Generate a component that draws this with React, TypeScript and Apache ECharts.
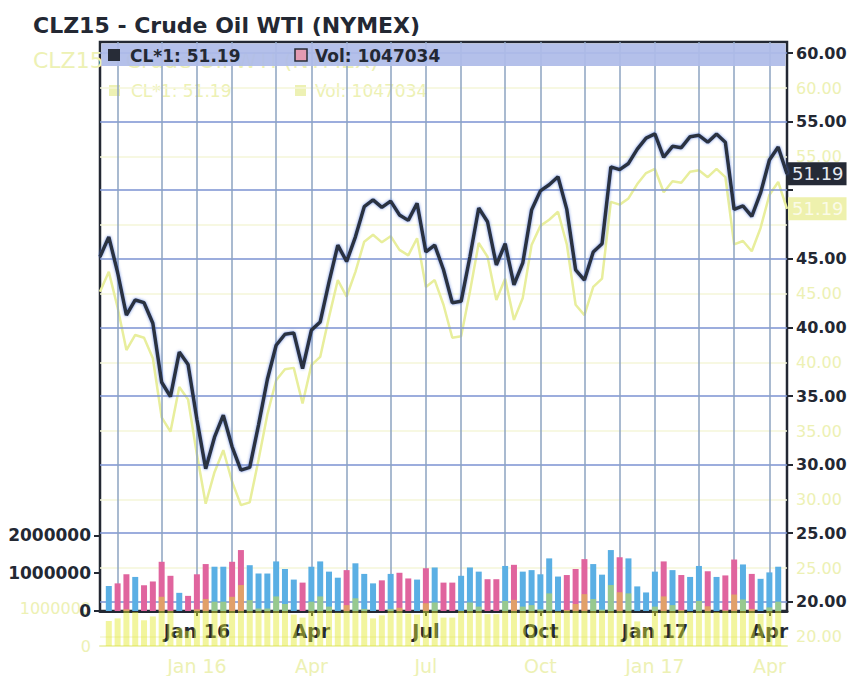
import React, { useEffect, useRef } from "react";
import * as echarts from "echarts";

const TITLE = "CLZ15 - Crude Oil WTI (NYMEX)";
const SYMBOL_LABEL = "CL*1";
const LAST_CLOSE = 51.19;
const LAST_VOLUME = 1047034;

const WEEKS = [
  "2015-10-19", "2015-10-26", "2015-11-02", "2015-11-09", "2015-11-16", "2015-11-23", "2015-11-30",
  "2015-12-07", "2015-12-14", "2015-12-21", "2015-12-28",
  "2016-01-04", "2016-01-11", "2016-01-18", "2016-01-25", "2016-02-01", "2016-02-08", "2016-02-15",
  "2016-02-22", "2016-02-29", "2016-03-07", "2016-03-14", "2016-03-21", "2016-03-28", "2016-04-04",
  "2016-04-11", "2016-04-18", "2016-04-25", "2016-05-02", "2016-05-09", "2016-05-16", "2016-05-23",
  "2016-05-30", "2016-06-06", "2016-06-13", "2016-06-20", "2016-06-27", "2016-07-04", "2016-07-11",
  "2016-07-18", "2016-07-25", "2016-08-01", "2016-08-08", "2016-08-15", "2016-08-22", "2016-08-29",
  "2016-09-05", "2016-09-12", "2016-09-19", "2016-09-26", "2016-10-03", "2016-10-10", "2016-10-17",
  "2016-10-24", "2016-10-31", "2016-11-07", "2016-11-14", "2016-11-21", "2016-11-28", "2016-12-05",
  "2016-12-12", "2016-12-19", "2016-12-26",
  "2017-01-02", "2017-01-09", "2017-01-16", "2017-01-23", "2017-01-30", "2017-02-06", "2017-02-13",
  "2017-02-20", "2017-02-27", "2017-03-06", "2017-03-13", "2017-03-20", "2017-03-27", "2017-04-03",
  "2017-04-10", "2017-04-17",
];

const CLOSE = [
  45.15, 46.6, 44.0, 40.9, 42.0, 41.8, 40.3, 36.0, 34.95, 38.2,
  37.3, 33.3, 29.7, 32.0, 33.6, 31.3, 29.6, 29.8, 32.9, 36.2,
  38.7, 39.5, 39.6, 37.0, 39.8, 40.4, 43.3, 46.0, 44.8, 46.6,
  48.8, 49.3, 48.75, 49.2, 48.2, 47.8, 49.05, 45.5, 46.0, 44.2,
  41.8, 41.9, 45.15, 48.7, 47.7, 44.55, 46.1, 43.1, 44.7, 48.55,
  49.95, 50.4, 50.98, 48.6, 44.2, 43.45, 45.5, 46.1, 51.7, 51.5,
  51.95, 53.0, 53.8, 54.1, 52.4, 53.2, 53.1, 53.9, 54.0, 53.5,
  54.1, 53.5, 48.6, 48.85, 48.1, 49.8, 52.2, 53.15, 51.19,
];

const VOLUME = [
  null, 660000, 730000, 970000, 900000, 680000, 780000, 1300000, 930000, 480000,
  400000, 970000, 1240000, 1170000, 1170000, 1300000, 1610000, 1210000, 990000, 990000,
  1310000, 1110000, 830000, 750000, 1170000, 1310000, 1040000, 880000, 1080000, 1260000,
  980000, 730000, 810000, 980000, 1010000, 860000, 830000, 1130000, 1150000, 750000,
  750000, 930000, 1150000, 1040000, 840000, 840000, 1190000, 1220000, 1040000, 1080000,
  970000, 1390000, 910000, 950000, 1110000, 1370000, 1240000, 960000, 1610000, 1420000,
  1390000, 650000, 490000, 1040000, 1310000, 1080000, 950000, 900000, 1190000, 1050000,
  900000, 940000, 1360000, 1230000, 980000, 850000, 1020000, 1170000, null,
];

const PRICE_MIN = 20;
const PRICE_MAX = 60;
const PRICE_STEP = 5;
const VOL_MAX = 2000000;
const VOL_STEP = 1000000;
const MONTH_NAMES = ["Jan", "Feb", "Mar", "Apr", "May", "Jun", "Jul", "Aug", "Sep", "Oct", "Nov", "Dec"];
const QUARTER_MONTHS = [1, 4, 7, 10];

const FONT = "DejaVu Sans";
const DARK = "#232833";
const GHOST = "#edf1b4";
const GHOST_LINE = "#e8ee9c";
const UP_COLOR = "#5aafe4";
const DOWN_COLOR = "#e0649e";

const isMonthStart = (idx: number, v: string) => Number(v.slice(8, 10)) <= 7;
const isQuarterStart = (idx: number, v: string) =>
  isMonthStart(idx, v) && QUARTER_MONTHS.includes(Number(v.slice(5, 7)));
const quarterLabel = (v: string) => {
  const m = Number(v.slice(5, 7));
  const name = MONTH_NAMES[m - 1];
  return m === 1 ? `${name} ${v.slice(2, 4)}` : name;
};
const priceLabel = (v: number) => (Math.abs(v - LAST_CLOSE) < PRICE_STEP / 2 ? "" : v.toFixed(2));
const volLabel = (v: number) => String(Math.round(v));
const ghostVolLabel = (v: number) => (v >= VOL_MAX ? "" : String(Math.round(v)));

const L = 100;
const R = 65;

export default function App() {
  const ref = useRef<HTMLDivElement>(null);
  useEffect(() => {
    if (!ref.current) return;
    const chart = echarts.init(ref.current, null, { renderer: "svg" });

    const barData = VOLUME.map((v, i) => ({
      value: v,
      itemStyle: { color: i > 0 && CLOSE[i] < CLOSE[i - 1] ? DOWN_COLOR : UP_COLOR },
    }));

    const hiddenX = (gridIndex: number) => ({
      type: "category",
      gridIndex,
      data: WEEKS,
      boundaryGap: false,
      show: false,
    });

    const option: any = {
      animation: false,
      backgroundColor: "#ffffff",
      grid: [
        { left: L, right: R, top: 42, height: 569, show: true, borderColor: DARK, borderWidth: 2.5, backgroundColor: "transparent" },
        { left: L, right: R, top: 53, height: 548.8 },
        { left: L, right: R, top: 535.3, height: 75.7 },
        { left: L, right: R, top: 88, height: 548.8 },
        { left: L, right: R, top: 570.3, height: 75.7 },
      ],
      xAxis: [
        {
          type: "category",
          gridIndex: 0,
          data: WEEKS,
          boundaryGap: false,
          z: 3,
          axisLine: { show: true, lineStyle: { color: DARK, width: 3 } },
          axisTick: { show: true, interval: isQuarterStart, length: 5, lineStyle: { color: DARK, width: 2 } },
          axisLabel: {
            interval: isQuarterStart,
            formatter: quarterLabel,
            color: DARK,
            fontFamily: FONT,
            fontWeight: "bold",
            fontSize: 19,
            margin: 10,
          },
          splitLine: { show: true, interval: isMonthStart, lineStyle: { color: "#8ca3c0", width: 1.5 } },
        },
        hiddenX(1),
        hiddenX(2),
        hiddenX(3),
        {
          type: "category",
          gridIndex: 4,
          data: WEEKS,
          boundaryGap: false,
          z: 0,
          axisLine: { show: true, lineStyle: { color: GHOST, width: 2 } },
          axisTick: { show: false },
          axisLabel: {
            interval: isQuarterStart,
            formatter: quarterLabel,
            color: GHOST,
            fontFamily: FONT,
            fontSize: 19,
            margin: 10,
          },
          splitLine: { show: false },
        },
      ],
      yAxis: [
        { type: "value", gridIndex: 0, min: 0, max: 1, show: false },
        {
          type: "value",
          gridIndex: 1,
          position: "right",
          min: PRICE_MIN,
          max: PRICE_MAX,
          interval: PRICE_STEP,
          z: 2,
          axisLine: { show: false },
          axisTick: { show: true, length: 6, lineStyle: { color: DARK, width: 2 } },
          axisLabel: { formatter: priceLabel, color: DARK, fontFamily: FONT, fontWeight: "bold", fontSize: 16, margin: 9 },
          splitLine: { show: true, lineStyle: { color: "#7b92d2", width: 1.5 } },
        },
        {
          type: "value",
          gridIndex: 2,
          position: "left",
          min: 0,
          max: VOL_MAX,
          interval: VOL_STEP,
          z: 3,
          axisLine: { show: false },
          axisTick: { show: true, length: 6, lineStyle: { color: DARK, width: 2 } },
          axisLabel: { formatter: volLabel, color: DARK, fontFamily: FONT, fontWeight: "bold", fontSize: 17, margin: 9 },
          splitLine: { show: false },
        },
        {
          type: "value",
          gridIndex: 3,
          position: "right",
          min: PRICE_MIN,
          max: PRICE_MAX,
          interval: PRICE_STEP,
          z: 0,
          axisLine: { show: false },
          axisTick: { show: false },
          axisLabel: { formatter: priceLabel, color: GHOST, fontFamily: FONT, fontSize: 16, margin: 9 },
          splitLine: { show: true, lineStyle: { color: "#f4f6d8", width: 1.5 } },
        },
        {
          type: "value",
          gridIndex: 4,
          position: "left",
          min: 0,
          max: VOL_MAX,
          interval: VOL_STEP,
          z: 0,
          axisLine: { show: false },
          axisTick: { show: false },
          axisLabel: { formatter: ghostVolLabel, color: GHOST, fontFamily: FONT, fontSize: 16, margin: 9 },
          splitLine: { show: false },
        },
      ],
      series: [
        {
          type: "line",
          xAxisIndex: 3,
          yAxisIndex: 3,
          data: CLOSE,
          symbol: "none",
          z: 1,
          lineStyle: { color: GHOST_LINE, width: 2.5 },
          markLine: {
            silent: true,
            symbol: "none",
            lineStyle: { color: "rgba(0,0,0,0)", width: 0 },
            label: {
              show: true,
              position: "end",
              distance: 1,
              formatter: () => LAST_CLOSE.toFixed(2),
              color: "#fbfbe8",
              backgroundColor: "#eef1ad",
              padding: [3, 3, 2, 4],
              fontFamily: FONT,
              fontSize: 18,
            },
            data: [{ yAxis: LAST_CLOSE }],
          },
        },
        {
          type: "bar",
          xAxisIndex: 2,
          yAxisIndex: 2,
          data: barData,
          barWidth: 6,
          z: 3,
        },
        {
          type: "bar",
          xAxisIndex: 4,
          yAxisIndex: 4,
          data: VOLUME,
          barWidth: 6,
          z: 4,
          itemStyle: { color: "rgba(226,232,40,0.45)" },
        },
        {
          type: "line",
          xAxisIndex: 1,
          yAxisIndex: 1,
          data: CLOSE,
          symbol: "none",
          z: 6,
          lineStyle: {
            color: "#2b3240",
            width: 3.5,
            shadowColor: "rgba(70,110,210,0.75)",
            shadowBlur: 3,
          },
          markLine: {
            silent: true,
            symbol: "none",
            lineStyle: { color: "rgba(0,0,0,0)", width: 0 },
            label: {
              show: true,
              position: "end",
              distance: 1,
              formatter: () => LAST_CLOSE.toFixed(2),
              color: "#e6e9f0",
              backgroundColor: "#252a36",
              padding: [3, 3, 2, 4],
              fontFamily: FONT,
              fontSize: 18,
            },
            data: [{ yAxis: LAST_CLOSE }],
          },
        },
      ],
      graphic: [
        {
          type: "text",
          x: 33,
          y: 60,
          z: 0,
          style: { text: TITLE, fill: GHOST, font: `22px '${FONT}'`, textVerticalAlign: "middle" },
        },
        { type: "rect", z: 0, shape: { x: 109, y: 85, width: 11, height: 11 }, style: { fill: GHOST } },
        {
          type: "text", x: 131, y: 91, z: 0,
          style: { text: `${SYMBOL_LABEL}: ${LAST_CLOSE.toFixed(2)}`, fill: GHOST, font: `17px '${FONT}'`, textVerticalAlign: "middle" },
        },
        { type: "rect", z: 0, shape: { x: 295, y: 85, width: 11, height: 11 }, style: { fill: GHOST } },
        {
          type: "text", x: 315, y: 91, z: 0,
          style: { text: `Vol: ${LAST_VOLUME}`, fill: GHOST, font: `17px '${FONT}'`, textVerticalAlign: "middle" },
        },
        {
          type: "rect",
          z: 20,
          shape: { x: 101.5, y: 43.5, width: 684, height: 22.5 },
          style: { fill: "#aebbe8", opacity: 0.93 },
        },
        {
          type: "text",
          x: 33,
          y: 25,
          z: 21,
          style: { text: TITLE, fill: DARK, font: `bold 22px '${FONT}'`, textVerticalAlign: "middle" },
        },
        { type: "rect", z: 21, shape: { x: 108, y: 49, width: 12, height: 12 }, style: { fill: "#272c37" } },
        {
          type: "text", x: 130, y: 55.5, z: 21,
          style: { text: `${SYMBOL_LABEL}: ${LAST_CLOSE.toFixed(2)}`, fill: DARK, font: `bold 17px '${FONT}'`, textVerticalAlign: "middle" },
        },
        {
          type: "rect", z: 21, shape: { x: 295, y: 49, width: 12, height: 12 },
          style: { fill: "#e39ab2", stroke: "#272c37", lineWidth: 1.5 },
        },
        {
          type: "text", x: 315, y: 55.5, z: 21,
          style: { text: `Vol: ${LAST_VOLUME}`, fill: DARK, font: `bold 17px '${FONT}'`, textVerticalAlign: "middle" },
        },
      ],
    };

    chart.setOption(option);
    return () => chart.dispose();
  }, []);

  return <div ref={ref} style={{ position: "absolute", left: 0, top: 0, width: 852, height: 676 }} />;
}
